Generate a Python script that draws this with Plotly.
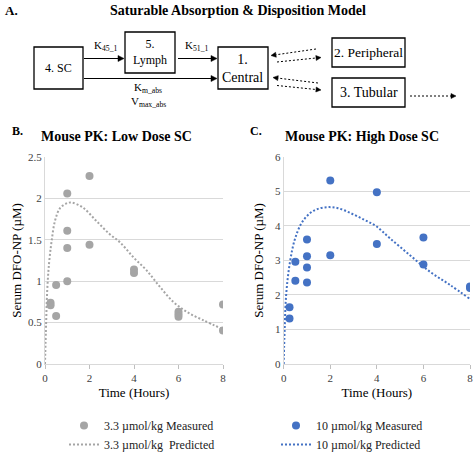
import math
import plotly.graph_objects as go

W, H = 474, 452

# ---------------- data ----------------
low_t_meas = [0.25, 0.25, 0.5, 0.5, 1, 1, 1, 1, 2, 2, 4, 4, 6, 6, 6, 8, 8]
low_c_meas = [0.74, 0.71, 0.955, 0.58, 2.06, 1.61, 1.40, 1.00, 2.27, 1.44, 1.14, 1.10, 0.63, 0.60, 0.57, 0.72, 0.405]

low_t_pred = [0, 0.05, 0.1, 0.18, 0.3, 0.45, 0.67, 0.97, 1.2, 1.7, 2.3, 2.9, 3.37, 3.97, 4.57, 5.17, 5.77, 6.37, 7.1, 8]
low_c_pred = [0, 0.49, 0.89, 1.21, 1.49, 1.73, 1.88, 1.94, 1.95, 1.89, 1.73, 1.57, 1.47, 1.29, 1.13, 0.93, 0.75, 0.63, 0.53, 0.42]

high_t_meas = [0.25, 0.25, 0.5, 0.5, 1, 1, 1, 1, 2, 2, 4, 4, 6, 6, 8, 8]
high_c_meas = [1.64, 1.32, 2.96, 2.41, 3.60, 3.12, 2.79, 2.36, 5.31, 3.15, 4.97, 3.47, 3.66, 2.88, 2.20, 2.24]

high_t_pred = [0, 0.04, 0.11, 0.26, 0.47, 0.76, 1.12, 1.47, 1.9, 2.33, 2.9, 3.47, 3.97, 4.56, 5.42, 6.28, 7.14, 8]
high_c_pred = [0, 0.98, 2.04, 2.91, 3.59, 4.07, 4.36, 4.49, 4.54, 4.51, 4.36, 4.17, 3.99, 3.64, 3.15, 2.67, 2.29, 1.88]

x_ticks = [0, 2, 4, 6, 8]

low_names = ["3.3 µmol/kg Measured", "3.3 µmol/kg  Predicted"]
high_names = ["10 µmol/kg Measured", "10 µmol/kg Predicted"]

GRAY = "#a5a5a5"
BLUE = "#4472c4"
SERIF = "Liberation Serif"


def px(x):
    return x / W


def py(y):
    return 1 - y / H


fig = go.Figure()

fig.add_trace(go.Scatter(x=low_t_meas, y=low_c_meas, mode="markers", name=low_names[0],
                         marker=dict(color=GRAY, size=8), xaxis="x", yaxis="y", legend="legend"))
fig.add_trace(go.Scatter(x=low_t_pred, y=low_c_pred, mode="lines", name=low_names[1],
                         line=dict(color=GRAY, width=2, dash="2px,2px", shape="spline"),
                         xaxis="x", yaxis="y", legend="legend"))
fig.add_trace(go.Scatter(x=high_t_meas, y=high_c_meas, mode="markers", name=high_names[0],
                         marker=dict(color=BLUE, size=8), xaxis="x2", yaxis="y2", legend="legend2"))
fig.add_trace(go.Scatter(x=high_t_pred, y=high_c_pred, mode="lines", name=high_names[1],
                         line=dict(color=BLUE, width=2, dash="2px,2px", shape="spline"),
                         xaxis="x2", yaxis="y2", legend="legend2"))

ax_common = dict(showgrid=False, showline=True, linecolor="#d9d9d9", linewidth=1, automargin=False,
                 ticks="outside", ticklen=4, tickcolor="#bfbfbf", zeroline=False,
                 tickfont=dict(family=SERIF, size=11, color="#404040"),
                 tickvals=x_ticks, range=[0, 8], fixedrange=True)
ay_common = dict(showgrid=True, gridcolor="#d9d9d9", gridwidth=1, showline=True, automargin=False,
                 linecolor="#d9d9d9", ticks="", zeroline=False,
                 tickfont=dict(family=SERIF, size=11, color="#404040"), fixedrange=True)

fig.update_layout(
    width=W, height=H, margin=dict(l=0, r=0, t=0, b=0, autoexpand=False),
    paper_bgcolor="white", plot_bgcolor="white",
    font=dict(family=SERIF, color="black"),
    xaxis=dict(ax_common, domain=[px(45), px(223)], anchor="y",
               title=dict(text="Time (Hours)", font=dict(family=SERIF, size=13), standoff=4)),
    yaxis=dict(ay_common, domain=[py(364), py(157)], anchor="x", range=[0, 2.5], dtick=0.5,
               title=dict(text="Serum DFO-NP (µM)", font=dict(family=SERIF, size=13), standoff=3)),
    xaxis2=dict(ax_common, domain=[px(283.7), px(470)], anchor="y2",
                title=dict(text="Time (Hours)", font=dict(family=SERIF, size=13), standoff=4)),
    yaxis2=dict(ay_common, domain=[py(364), py(156.7)], anchor="x2", range=[0, 6], dtick=1,
                title=dict(text="Serum DFO-NP (µM)", font=dict(family=SERIF, size=13), standoff=8)),
    legend=dict(x=px(64), y=-7 / H, xanchor="left", yanchor="bottom", bgcolor="rgba(0,0,0,0)",
                font=dict(family=SERIF, size=12, color="#222"), tracegroupgap=0),
    legend2=dict(x=px(276), y=-7 / H, xanchor="left", yanchor="bottom", bgcolor="rgba(0,0,0,0)",
                 font=dict(family=SERIF, size=12, color="#222"), tracegroupgap=0),
    showlegend=True,
)

annotations = []
shapes = []


def text(x, y, s, size, bold=False, xanchor="center"):
    annotations.append(dict(x=px(x), y=py(y), xref="paper", yref="paper", text=(f"<b>{s}</b>" if bold else s),
                            showarrow=False, xanchor=xanchor, yanchor="middle",
                            font=dict(family=SERIF, size=size, color="black")))


def box(x0, y0, x1, y1):
    shapes.append(dict(type="rect", xref="paper", yref="paper", x0=px(x0), x1=px(x1), y0=py(y1), y1=py(y0),
                       line=dict(color="black", width=1.3), fillcolor="white", layer="below"))


def arrow(x0, y0, x1, y1, dash="solid", hl=6, hw=3):
    dx, dy = x1 - x0, y1 - y0
    L = math.hypot(dx, dy)
    ux, uy = dx / L, dy / L
    bx, by = x1 - ux * hl, y1 - uy * hl
    shapes.append(dict(type="line", xref="paper", yref="paper", x0=px(x0), y0=py(y0), x1=px(bx), y1=py(by),
                       line=dict(color="black", width=1, dash=dash)))
    nx, ny = -uy, ux
    p = (f"M {px(x1)},{py(y1)} L {px(bx + nx * hw)},{py(by + ny * hw)} "
         f"L {px(bx - nx * hw)},{py(by - ny * hw)} Z")
    shapes.append(dict(type="path", xref="paper", yref="paper", path=p, fillcolor="black",
                       line=dict(color="black", width=0.5)))


# Panel A diagram
text(3, 11, "A.", 13, bold=True, xanchor="left")
text(238, 11, "Saturable Absorption &amp; Disposition Model", 14, bold=True)

box(34, 47, 83, 89)
text(58.5, 68, "4. SC", 12)
box(125, 32, 175, 73)
text(150, 52.5, "5.<br>Lymph", 12)
box(218, 47, 268, 89)
text(243, 68, "1.<br>Central", 14)
box(332, 38, 405, 67)
text(368.5, 52.5, "2. Peripheral", 13.5)
box(332, 78, 405, 107)
text(368.5, 92.5, "3. Tubular", 14)

arrow(84, 58.5, 124, 58.5)
arrow(178, 58.5, 217, 58.5)
arrow(84, 78.5, 217, 78.5)
text(105, 46, "K<sub>45_1</sub>", 11)
text(196, 46, "K<sub>51_1</sub>", 11)
text(148, 88, "K<sub>m_abs</sub>", 11)
text(148, 102, "V<sub>max_abs</sub>", 11)

arrow(316, 49, 271, 55.5, dash="2px,2px", hl=5, hw=2.5)
arrow(277, 62, 321, 57.5, dash="2px,2px", hl=5, hw=2.5)
arrow(318, 83, 273, 77.5, dash="2px,2px", hl=5, hw=2.5)
arrow(277, 85.5, 321, 90, dash="2px,2px", hl=5, hw=2.5)
arrow(410, 96, 456, 96, dash="2px,2px", hl=5, hw=2.5)

# Panel titles
text(10, 131, "B.", 12, bold=True, xanchor="left")
text(116, 136, "Mouse PK: Low Dose SC", 14, bold=True)
text(248, 131, "C.", 12, bold=True, xanchor="left")
text(362, 136, "Mouse PK: High Dose SC", 14, bold=True)

fig.update_layout(annotations=annotations, shapes=shapes)

fig.write_html("out.html", config={"displayModeBar": False},
               post_script="document.body.style.margin='0px';")
